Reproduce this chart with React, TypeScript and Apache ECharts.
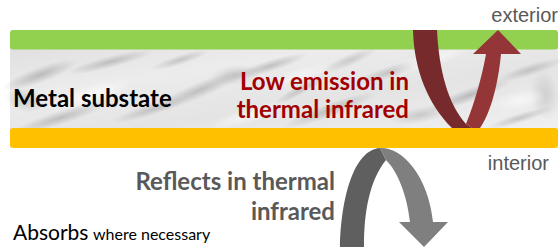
import React, { useEffect, useRef } from "react";
import * as echarts from "echarts";

// Diagram content
const sideLabels = ["exterior", "interior"];
const substrateLabel = ["Metal substate"];
const emissionLines = ["Low emission in", "thermal infrared"];
const reflectLines = ["Reflects in thermal", "infrared"];
const absorbParts = ["Absorbs", "where necessary"];

// Arrow outlines (SVG path shapes)
const RED_DARK_D =
  "M413,30 L437,30 C439,70 448,104 466,124 L472,128 L452,128 C428,104 414,70 413,30 Z";
const RED_LIGHT_D =
  "M466,124 C472,110 481,82 486,54 L473,54 L498,30 L521,54 L501,54 C498,86 490,114 480,128 L472,128 Z";
const GREY_DARK_D =
  "M340,247 L364,247 C364,210 370,180 386,160 L380,148 C353,150 341,200 340,247 Z";
const GREY_LIGHT_D =
  "M380,148 C402,147 428,175 433,222 L448,222 L424,247 L399,222 L410,222 C407,195 398,172 386,160 Z";

echarts.graphic.registerShape("redDark", echarts.graphic.extendPath(RED_DARK_D, {}));
echarts.graphic.registerShape("redLight", echarts.graphic.extendPath(RED_LIGHT_D, {}));
echarts.graphic.registerShape("greyDark", echarts.graphic.extendPath(GREY_DARK_D, {}));
echarts.graphic.registerShape("greyLight", echarts.graphic.extendPath(GREY_LIGHT_D, {}));

const CAL = "Lato";
const ARIAL = "Liberation Sans";

function blob(cx: number, cy: number, rx: number, ry: number, rot: number, color: string, a: number) {
  return {
    type: "ellipse",
    x: cx,
    y: cy,
    rotation: rot,
    shape: { cx: 0, cy: 0, rx, ry },
    style: {
      fill: {
        type: "radial",
        x: 0.5,
        y: 0.5,
        r: 0.5,
        colorStops: [
          { offset: 0, color: `rgba(${color},${a})` },
          { offset: 1, color: `rgba(${color},0)` },
        ],
      },
    },
    silent: true,
  };
}

function txt(text: string, x: number, y: number, size: number, bold: boolean, family: string, fill: string, align: string) {
  return {
    type: "text",
    x,
    y,
    style: {
      text,
      fontSize: size,
      fontWeight: bold ? "bold" : "normal",
      fontFamily: family,
      fill,
      align,
      verticalAlign: "middle",
    },
  };
}

export default function App() {
  const ref = useRef<HTMLDivElement>(null);
  useEffect(() => {
    if (!ref.current) return;
    const chart = echarts.init(ref.current, undefined, { renderer: "svg" });
    const G = "140,140,140";
    const W = "255,255,255";
    const streaks: any[] = [
      blob(40, 75, 40, 8, 0.35, G, 0.5),
      blob(110, 62, 45, 6, 0.25, G, 0.45),
      blob(60, 118, 50, 7, 0.3, G, 0.45),
      blob(200, 90, 55, 8, 0.4, G, 0.45),
      blob(270, 66, 40, 6, 0.3, G, 0.45),
      blob(330, 110, 50, 7, 0.35, G, 0.45),
      blob(390, 72, 35, 6, 0.3, G, 0.4),
      blob(470, 95, 45, 7, 0.35, G, 0.5),
      blob(530, 70, 35, 6, 0.3, G, 0.4),
      blob(150, 110, 40, 6, 0.3, G, 0.4),
      blob(520, 118, 35, 5, 0.3, G, 0.4),
      blob(300, 90, 30, 5, 0.5, G, 0.4),
      blob(180, 60, 30, 5, 0.3, G, 0.4),
      blob(25, 100, 20, 12, -0.2, G, 0.35),
      blob(235, 75, 25, 10, 0.1, G, 0.3),
      blob(545, 95, 15, 25, 0.1, G, 0.3),
      blob(420, 115, 30, 8, 0.2, G, 0.35),
      blob(350, 60, 30, 6, 0.4, G, 0.35),
      blob(90, 95, 45, 10, 0.3, W, 0.75),
      blob(250, 115, 45, 8, 0.3, W, 0.65),
      blob(430, 60, 45, 8, 0.3, W, 0.65),
      blob(520, 100, 30, 10, 0.2, W, 0.6),
      blob(300, 75, 35, 8, 0.3, W, 0.5),
    ];
    chart.setOption({
      animation: false,
      backgroundColor: "#ffffff",
      graphic: [
        // marble substrate
        {
          type: "rect",
          shape: { x: 10, y: 48, width: 548, height: 82 },
          style: {
            fill: {
              type: "linear",
              x: 0,
              y: 0,
              x2: 1,
              y2: 1,
              colorStops: [
                { offset: 0, color: "#e0e0e0" },
                { offset: 0.3, color: "#ececec" },
                { offset: 0.6, color: "#e4e4e4" },
                { offset: 1, color: "#f0f0f0" },
              ],
            },
          },
          silent: true,
        },
        ...streaks,
        // green exterior layer
        {
          type: "rect",
          shape: { x: 10, y: 30, width: 548, height: 19.5, r: 3 },
          style: { fill: "#92d050" },
        },
        // red arrow
        { type: "redDark", x: 0, y: 0, style: { fill: "#772a2b" } },
        { type: "redLight", x: 0, y: 0, style: { fill: "#943637" } },
        // orange interior layer
        {
          type: "rect",
          shape: { x: 10, y: 128, width: 548, height: 20, r: 3 },
          style: { fill: "#ffc000" },
        },
        // grey arrow
        { type: "greyDark", x: 0, y: 0, style: { fill: "#5f5f5f" } },
        { type: "greyLight", x: 0, y: 0, style: { fill: "#7f7f7f" } },
        // texts
        txt(sideLabels[0], 558, 15, 20, false, ARIAL, "#595959", "right"),
        txt(sideLabels[1], 549, 163, 20, false, ARIAL, "#595959", "right"),
        txt(substrateLabel[0], 13, 97, 24, true, CAL, "#000000", "left"),
        ...emissionLines.map((t, i) => txt(t, 409, 80 + i * 28, 24, true, CAL, "#a20000", "right")),
        ...reflectLines.map((t, i) => txt(t, 335, 180 + i * 30, 24, true, CAL, "#595959", "right")),
        txt(absorbParts[0], 13, 231, 21, false, CAL, "#000000", "left"),
        txt(absorbParts[1], 93, 233, 16, false, CAL, "#000000", "left"),
      ],
    });
    return () => chart.dispose();
  }, []);
  return (
    <div
      ref={ref}
      style={{ position: "fixed", left: 0, top: 0, width: 560, height: 247 }}
    />
  );
}
